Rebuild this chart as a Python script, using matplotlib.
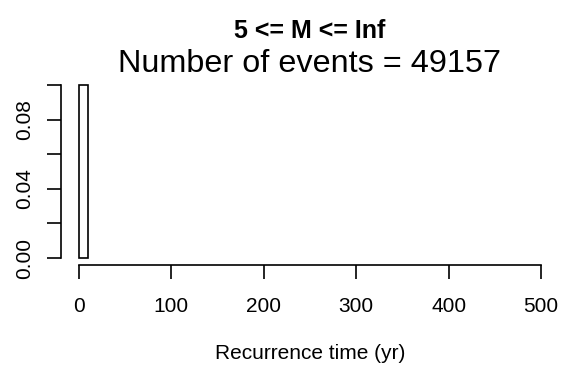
import matplotlib
matplotlib.use("Agg")
import matplotlib.pyplot as plt
import numpy as np

plt.rcParams['font.family'] = ['Liberation Sans', 'DejaVu Sans']

bin_edges = [0, 10]
densities = [0.1]
title_main = "5 <= M <= Inf"
title_sub = "Number of events = 49157"
xlabel = "Recurrence time (yr)"
xticks = [0, 100, 200, 300, 400, 500]
yticks = [0.00, 0.02, 0.04, 0.06, 0.08, 0.10]
ytick_labels = ["0.00", "", "0.04", "", "0.08", ""]

W, H = 571, 377
fig = plt.figure(figsize=(W/100, H/100), dpi=100)
left, right, top, bottom = 61, 559.5, 78, 265
ax = fig.add_axes([left/W, 1-bottom/H, (right-left)/W, (bottom-top)/H])

for i in range(len(densities)):
    ax.bar(bin_edges[i], densities[i], width=bin_edges[i+1]-bin_edges[i], align='edge',
           facecolor='white', edgecolor='black', linewidth=1.2)

ax.set_xlim(-19.5, 520)
ax.set_ylim(-0.004, 0.104)
for s in ['top', 'right']:
    ax.spines[s].set_visible(False)
ax.spines['left'].set_bounds(0, 0.1)
ax.spines['bottom'].set_bounds(0, 500)
ax.spines['left'].set_linewidth(1.2)
ax.spines['bottom'].set_linewidth(1.2)
ax.set_xticks(xticks)
ax.set_yticks(yticks)
ax.set_yticklabels(ytick_labels, rotation=90, va='center')
ax.tick_params(axis='both', length=10, width=1.2, labelsize=15)
ax.tick_params(axis='x', pad=13)
ax.tick_params(axis='y', pad=9)
ax.set_xlabel(xlabel, fontsize=15, labelpad=20)

fig.text(310/W, 1-31/H, title_main, ha='center', va='center', fontsize=18, fontweight='bold')
fig.text(310/W, 1-64/H, title_sub, ha='center', va='center', fontsize=23.3)

fig.savefig("out.png", dpi=100)
